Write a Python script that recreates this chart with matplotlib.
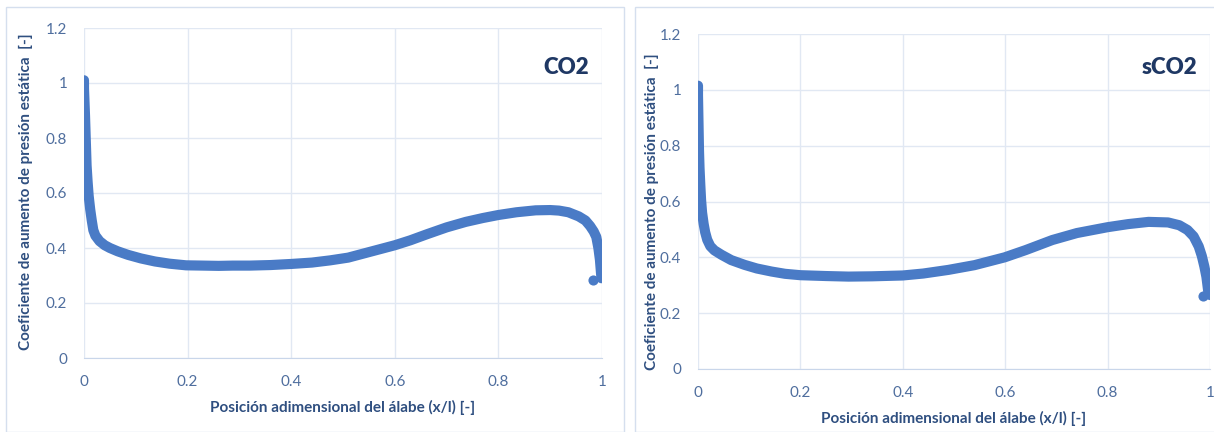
import matplotlib
matplotlib.use("Agg")
import matplotlib.pyplot as plt
from matplotlib.patches import Rectangle

# ---------------------------------------------
# Data: static pressure rise coefficient along the blade
# ---------------------------------------------
co2_x = [0, 0, 0.001, 0.002, 0.003, 0.004, 0.005, 0.007, 0.009, 0.012, 0.015,
         0.018, 0.022, 0.03, 0.04, 0.05, 0.065, 0.085, 0.11, 0.137, 0.165,
         0.197, 0.23, 0.26, 0.287, 0.32, 0.36, 0.4, 0.44, 0.475, 0.51, 0.55,
         0.6, 0.63, 0.662, 0.7, 0.737, 0.77, 0.8, 0.835, 0.872, 0.9, 0.917,
         0.935, 0.955, 0.968, 0.977, 0.984, 0.989, 0.993, 0.996, 0.998, 0.999]
co2_y = [1.01, 0.98, 0.93, 0.88, 0.82, 0.76, 0.70, 0.64, 0.59, 0.54, 0.50,
         0.465, 0.445, 0.425, 0.41, 0.40, 0.388, 0.375, 0.362, 0.351, 0.343,
         0.337, 0.336, 0.335, 0.336, 0.336, 0.338, 0.342, 0.347, 0.355, 0.365,
         0.385, 0.41, 0.428, 0.45, 0.475, 0.495, 0.509, 0.52, 0.53, 0.537,
         0.538, 0.536, 0.53, 0.515, 0.50, 0.48, 0.46, 0.44, 0.40, 0.357, 0.31,
         0.29]
co2_te_x = [0.983]
co2_te_y = [0.284]

sco2_x = [0, 0, 0.0005, 0.001, 0.0015, 0.002, 0.003, 0.0045, 0.006, 0.008,
          0.011, 0.014, 0.018, 0.024, 0.032, 0.046, 0.065, 0.091, 0.115, 0.144,
          0.17, 0.2, 0.25, 0.294, 0.34, 0.4, 0.44, 0.489, 0.54, 0.599, 0.64,
          0.692, 0.74, 0.8, 0.84, 0.88, 0.918, 0.94, 0.956, 0.968, 0.978,
          0.984, 0.989, 0.993, 0.997, 1.0]
sco2_y = [1.015, 0.98, 0.93, 0.88, 0.83, 0.78, 0.72, 0.66, 0.606, 0.56, 0.52,
          0.49, 0.463, 0.44, 0.425, 0.409, 0.39, 0.373, 0.36, 0.349, 0.341,
          0.336, 0.333, 0.331, 0.332, 0.335, 0.342, 0.355, 0.372, 0.40, 0.426,
          0.462, 0.487, 0.508, 0.519, 0.527, 0.525, 0.515, 0.498, 0.475, 0.439,
          0.405, 0.367, 0.33, 0.271, 0.265]
sco2_te_x = [0.986]
sco2_te_y = [0.262]

x_ticks = [0, 0.2, 0.4, 0.6, 0.8, 1]
y_ticks = [0, 0.2, 0.4, 0.6, 0.8, 1, 1.2]

XLABEL = "Posición adimensional del álabe (x/l) [-]"
YLABEL = "Coeficiente de aumento de presión estática  [-]"

# ---------------------------------------------
# Style
# ---------------------------------------------
plt.rcParams["font.family"] = ["Lato", "DejaVu Sans"]
MARK = "#4A7BC6"
LABEL_C = "#2F4F80"
TICK_C = "#4F6E9E"
GRID_C = "#E1E8F3"
BORDER_C = "#D5DFEE"

W, H = 1214, 432
fig = plt.figure(figsize=(W / 100, H / 100), dpi=100)

# chart frames
fig.add_artist(Rectangle((6 / W, 0), 618 / W, (H - 7) / H, transform=fig.transFigure,
                         fill=False, edgecolor=BORDER_C, lw=1))
fig.add_artist(Rectangle((635 / W, 0), 600 / W, (H - 7) / H, transform=fig.transFigure,
                         fill=False, edgecolor=BORDER_C, lw=1))


def panel(rect, xs, ys, te_x, te_y, tag, tag_y, ylab_xy):
    ax = fig.add_axes(rect)
    ax.plot(xs, ys, color=MARK, lw=7.3, solid_capstyle="round",
            solid_joinstyle="round", zorder=3)
    ax.plot(te_x, te_y, "o", color=MARK, ms=7.3, mew=0, zorder=3)
    ax.set_xlim(0, 1)
    ax.set_ylim(0, 1.2)
    ax.set_xticks(x_ticks)
    ax.set_yticks(y_ticks)
    ax.set_xticklabels([f"{t:g}" for t in x_ticks])
    ax.set_yticklabels([f"{t:g}" for t in y_ticks])
    ax.tick_params(length=0, labelsize=11, labelcolor=TICK_C)
    ax.tick_params(axis="x", pad=12)
    ax.tick_params(axis="y", pad=12)
    ax.grid(True, color=GRID_C, lw=1)
    ax.set_axisbelow(True)
    for s in ["top", "right", "left"]:
        ax.spines[s].set_visible(False)
    ax.spines["bottom"].set_color("#C9D6EA")
    ax.set_xlabel(XLABEL, fontsize=11, fontweight="bold", color=LABEL_C, labelpad=8)
    ax.set_ylabel(YLABEL, fontsize=11, fontweight="bold", color=LABEL_C)
    ax.yaxis.set_label_coords(*ylab_xy)
    ax.text(0.975, tag_y, tag, transform=ax.transAxes, ha="right", va="center",
            fontsize=16, fontweight="heavy", color="#1F3864")
    return ax


panel([84 / W, (H - 358) / H, 518 / W, 330 / H], co2_x, co2_y, co2_te_x, co2_te_y,
      "CO2", 0.88, (-0.098, 0.503))
panel([698 / W, (H - 369) / H, 512 / W, 335 / H], sco2_x, sco2_y, sco2_te_x, sco2_te_y,
      "sCO2", 0.90, (-0.076, 0.469))

fig.savefig("out.png", dpi=100)
